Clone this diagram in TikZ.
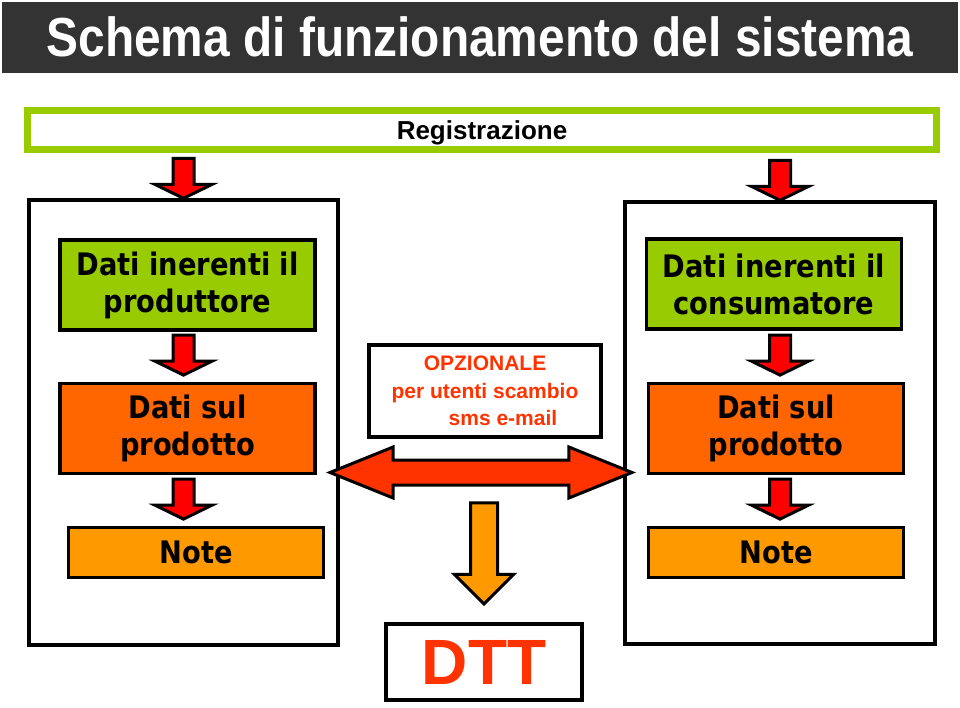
\documentclass[tikz,border=0pt]{standalone}
\usepackage{fontspec}
\setmainfont{Liberation Sans}
\newfontfamily\titlefont[FakeStretch=0.87]{Liberation Sans}
\newfontfamily\boxfont[FakeStretch=0.88]{DejaVu Sans}
\usetikzlibrary{shapes.arrows,calc}
\definecolor{bar-gray}{HTML}{333333}
\definecolor{reg-green}{HTML}{99CC00}
\definecolor{prod-orange}{HTML}{FF6600}
\definecolor{note-orange}{HTML}{FF9900}
\definecolor{opz-red}{HTML}{FF3300}
\begin{document}
\begin{tikzpicture}[
    x=1pt, y=-1pt,
    big-box/.style = {draw, line width=4pt, inner sep=0pt},
    elm-box/.style = {draw, line width=3.5pt, inner sep=0pt, align=center,
                      font=\boxfont\bfseries\fontsize{31}{37}\selectfont},
    info-box/.style = {elm-box, fill=reg-green, minimum width=255pt, minimum height=90pt},
    prod-box/.style = {elm-box, fill=prod-orange, minimum width=255pt, minimum height=90pt},
    note-box/.style = {elm-box, fill=note-orange, minimum width=255pt, minimum height=50pt},
    red-arr/.style = {single arrow, draw, line width=3pt, fill=red, inner sep=9pt,
                      shape border rotate=270, minimum height=40pt,
                      single arrow head extend=18pt, single arrow tip angle=128}
  ]
  \useasboundingbox (0,0) rectangle (960,707);

  % title bar
  \fill[bar-gray] (2,2) rectangle (958,73);
  \node[text=white, font=\titlefont\bfseries\fontsize{55}{60}\selectfont] (title) at (480,37) {Schema di funzionamento del sistema};

  \node[draw=reg-green, line width=7pt, minimum width=909pt, minimum height=39pt, text depth=0pt,
        font=\bfseries\fontsize{26}{30}\selectfont] (reg) at (482,130) {Registrazione};

  % produttore / consumatore
  \node[big-box, minimum width=309pt, minimum height=445pt] (bigL) at (183.5,422.5) {};
  \node[big-box, minimum width=310pt, minimum height=442pt] (bigR) at (780,423) {};

  \node[info-box] (infoL) at (187.5,285) {Dati inerenti il\\produttore};
  \node[prod-box] (prodL) at (187.5,428.5) {Dati sul\\prodotto};
  \node[note-box] (noteL) at (196,552.5) {Note};

  \node[info-box] (infoR) at (774,284) {Dati inerenti il\\consumatore};
  \node[prod-box] (prodR) at (776,428.5) {Dati sul\\prodotto};
  \node[note-box] (noteR) at (776,552.5) {Note};

  \node[red-arr, anchor=tip] (arrL1) at ([yshift=-2pt]bigL.north) {};
  \node[red-arr, anchor=tip] (arrL2) at ([yshift=5pt]prodL.north -| bigL.north) {};
  \node[red-arr, anchor=tip] (arrL3) at ([yshift=5pt]noteL.north -| bigL.north) {};
  \node[red-arr, anchor=tip] (arrR1) at ([yshift=-2pt]bigR.north) {};
  \node[red-arr, anchor=tip] (arrR2) at ([yshift=5pt]prodR.north -| bigR.north) {};
  \node[red-arr, anchor=tip] (arrR3) at ([yshift=5pt]noteR.north -| bigR.north) {};

  % scambio opzionale
  \node[draw, line width=3.5pt, minimum width=232pt, minimum height=92pt, align=center,
        text=opz-red, font=\bfseries\fontsize{21}{27.5}\selectfont] (opz) at (485,391)
        {OPZIONALE\\per utenti scambio\\\hspace*{36pt}sms e-mail};
  \node[double arrow, draw, line width=3pt, fill=opz-red, inner sep=11pt,
        minimum height=302pt, double arrow head extend=13pt,
        double arrow tip angle=44] (swap) at (481,472.5) {};

  \node[draw, line width=4pt, minimum width=196pt, minimum height=76pt, text=opz-red,
        font=\bfseries\fontsize{64}{70}\selectfont] (dtt) at (484,662) {DTT};
  \node[single arrow, draw, line width=3pt, fill=note-orange, inner sep=12pt,
        shape border rotate=270, minimum height=101pt,
        single arrow head extend=16pt, anchor=tip] (arrD) at ([yshift=16pt]dtt.north) {};
\end{tikzpicture}
\end{document}
